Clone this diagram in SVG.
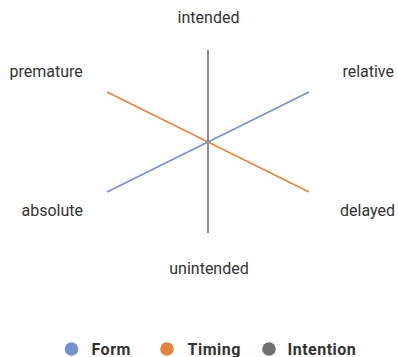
<svg xmlns="http://www.w3.org/2000/svg" width="398" height="357" viewBox="0 0 398 357">
<style>
.lbl{font-family:Roboto,"Liberation Sans",sans-serif;font-size:16px;fill:#333333}
.leg{font-family:Roboto,"Liberation Sans",sans-serif;font-size:16px;font-weight:bold;fill:#333333;letter-spacing:0.5px}
.ax{stroke-width:1.6;fill:none}
</style>
<rect width="398" height="357" fill="#ffffff"/>
<g id="connectors">
<line class="ax" x1="208" y1="50" x2="208" y2="233" stroke="#707070"/>
<line class="ax" x1="107" y1="92" x2="309" y2="192" stroke="#E4843F"/>
<line class="ax" x1="107" y1="192" x2="309" y2="92" stroke="#7492CC"/>
</g>
<g id="intended"><text class="lbl" x="208.5" y="22.5" text-anchor="middle">intended</text></g>
<g id="premature"><text class="lbl" x="9.5" y="77">premature</text></g>
<g id="relative"><text class="lbl" x="394" y="77" text-anchor="end">relative</text></g>
<g id="absolute"><text class="lbl" x="21.5" y="216">absolute</text></g>
<g id="delayed"><text class="lbl" x="395" y="216" text-anchor="end">delayed</text></g>
<g id="unintended"><text class="lbl" x="209" y="274" text-anchor="middle">unintended</text></g>
<g id="legend">
<circle cx="71.5" cy="349" r="6.8" fill="#7492CC"/>
<text class="leg" x="91.5" y="354.5">Form</text>
<circle cx="167" cy="349" r="6.8" fill="#E4843F"/>
<text class="leg" x="187.5" y="354.5">Timing</text>
<circle cx="269" cy="349" r="6.8" fill="#707070"/>
<text class="leg" x="287.5" y="354.5">Intention</text>
</g>
</svg>
